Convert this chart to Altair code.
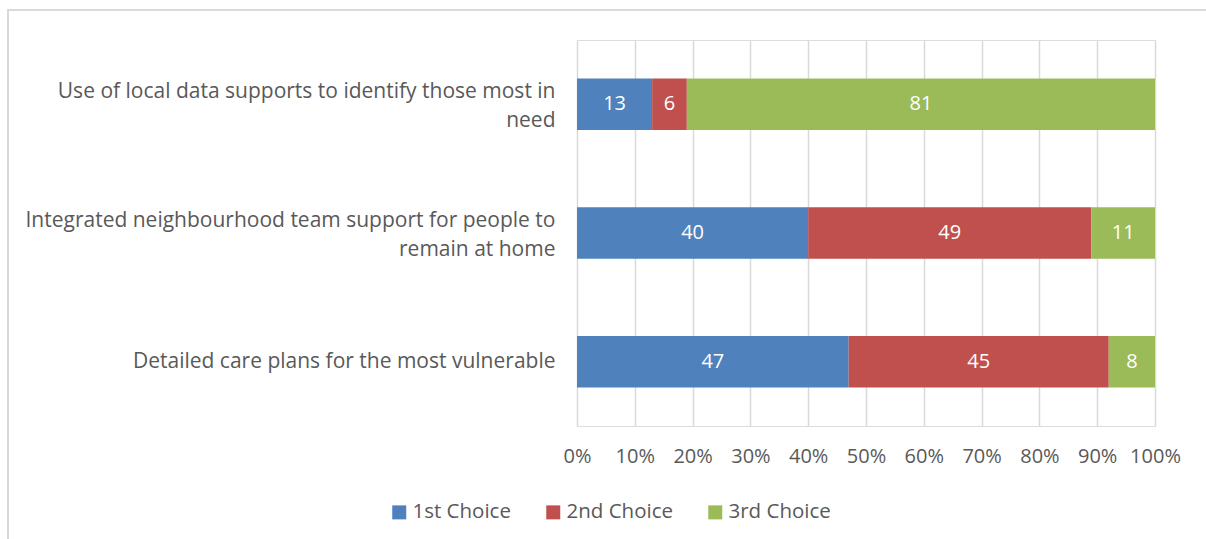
import altair as alt
import pandas as pd

categories = [
    "Use of local data supports to identify those most in\nneed",
    "Integrated neighbourhood team support for people to\nremain at home",
    "Detailed care plans for the most vulnerable",
]
series = ["1st Choice", "2nd Choice", "3rd Choice"]
first_choice = [13, 40, 47]
second_choice = [6, 49, 45]
third_choice = [81, 11, 8]
colors = ["#4F81BD", "#C0504D", "#9BBB59"]
tick_values = [0, 10, 20, 30, 40, 50, 60, 70, 80, 90, 100]

rows = []
for i, c in enumerate(categories):
    for j, (s, vals) in enumerate(zip(series, [first_choice, second_choice, third_choice])):
        rows.append({"category": c, "series": s, "order": j, "value": vals[i]})
df = pd.DataFrame(rows)

FONT = "Open Sans"
GREY = "#595959"

base = alt.Chart(df).transform_stack(
    stack="value", groupby=["category"], as_=["start", "end"],
    sort=[alt.SortField("order", order="ascending")]
).transform_calculate(mid="(datum.start + datum.end) / 2")

y_enc = alt.Y(
    "category:N", sort=categories, title=None,
    scale=alt.Scale(paddingInner=0.6, paddingOuter=0.3),
    axis=alt.Axis(
        domain=False, ticks=False, labelPadding=22, labelFontSize=21,
        labelFont=FONT, labelColor=GREY, labelLimit=600, labelAlign="right",
        labelLineHeight=28.5, labelExpr="split(datum.label, '\\n')",
        labelOffset=alt.condition("indexof(datum.value, '\\n') >= 0",
                                  alt.value(-12), alt.value(0)),
    ),
)

x_scale = alt.Scale(domain=[0, 100], nice=False)

bars = base.mark_bar(strokeWidth=0).encode(
    x=alt.X(
        "start:Q", scale=x_scale, title=None,
        axis=alt.Axis(
            values=tick_values, labelExpr="datum.value + '%'", grid=True,
            gridColor="#D9D9D9", gridWidth=1.5, domain=False, ticks=False,
            labelPadding=20, labelFontSize=20, labelFont=FONT, labelColor=GREY,
            labelOverlap=False, labelFlush=False,
        ),
    ),
    x2="end:Q",
    y=y_enc,
    color=alt.Color(
        "series:N", sort=series,
        scale=alt.Scale(domain=series, range=colors),
        legend=alt.Legend(
            title=None, orient="none", direction="horizontal",
            legendX=-188, legendY=462, symbolType="square", symbolSize=196,
            symbolStrokeWidth=0, labelFontSize=20.5, labelFont=FONT,
            labelColor=GREY, columnPadding=32, labelOffset=3,
        ),
    ),
)

texts = base.mark_text(color="white", fontSize=20, font=FONT).encode(
    x=alt.X("mid:Q", scale=x_scale),
    y=alt.Y("category:N", sort=categories),
    text="value:Q",
)

frame = alt.Chart(df).mark_rect(
    fill=None, stroke="#D9D9D9", strokeWidth=2
).encode(
    x=alt.value(-569), x2=alt.value(640),
    y=alt.value(-30), y2=alt.value(520),
)

chart = alt.layer(frame, bars, texts).properties(
    width=578, height=386,
    autosize=alt.AutoSizeParams(type="none"),
    padding={"left": 577, "top": 40, "right": 51, "bottom": 113},
).configure_view(stroke=None).configure(background="white")

chart.save("out.html", embed_options={"renderer": "svg", "actions": False})
